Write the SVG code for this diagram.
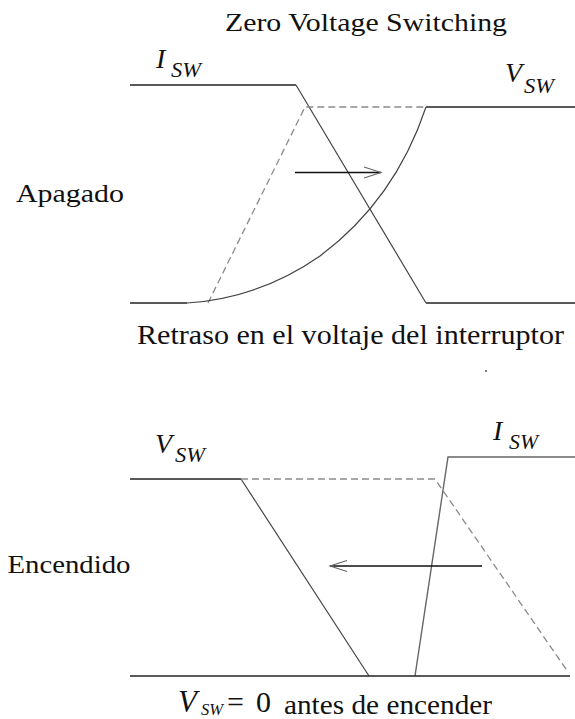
<svg xmlns="http://www.w3.org/2000/svg" width="575" height="719" viewBox="0 0 575 719">
  <defs>
    <marker id="open" markerUnits="userSpaceOnUse" markerWidth="24" markerHeight="16" viewBox="-20 -8 24 16" refX="0" refY="0" orient="auto">
      <path d="M-17,-5.5 L0,0 L-17,5.5" fill="none" stroke="#666" stroke-width="1.1"/>
    </marker>
  </defs>
  <style>
    text { fill: #111; }
    .i { font-style: italic; }
    .base { fill: none; stroke: #222; stroke-width: 1.6; }
    .slope { fill: none; stroke: #444; stroke-width: 1.2; }
    .grey { fill: none; stroke: #666; stroke-width: 1.4; }
    .dash { fill: none; stroke: #8a8a8a; stroke-width: 1.3; stroke-dasharray: 7 4; }
    .arrow { fill: none; stroke: #111; stroke-width: 1.5; marker-end: url(#open); }
  </style>
  <rect width="575" height="719" fill="#fff"/>

  <text font-family="Liberation Serif" x="225" y="31" font-size="26" textLength="282" lengthAdjust="spacingAndGlyphs">Zero Voltage Switching</text>

  <g id="apagado">
    <text font-family="Liberation Serif" x="16" y="201.5" font-size="26" textLength="108" lengthAdjust="spacingAndGlyphs">Apagado</text>
    <g id="isw-top">
      <text font-family="Liberation Serif" class="i" x="156" y="68" font-size="28">I</text>
      <text font-family="Liberation Serif" class="i" x="171" y="77" font-size="21" textLength="30" lengthAdjust="spacingAndGlyphs">SW</text>
    </g>
    <g id="vsw-top">
      <text font-family="Liberation Serif" class="i" x="505" y="82" font-size="28">V</text>
      <text font-family="Liberation Serif" class="i" x="524" y="93" font-size="21" textLength="30" lengthAdjust="spacingAndGlyphs">SW</text>
    </g>
    <path class="base" d="M130,85 H296"/>
    <path class="slope" d="M296,85 L426,303"/>
    <path class="base" d="M426,303 H575"/>
    <path class="dash" d="M208,303 L305,107 H426"/>
    <path class="base" d="M426,107 H575"/>
    <path class="base" d="M130,303 H187"/>
    <path class="slope" d="M187,303 Q260,298 320,256 Q395,200 426,107"/>
    <text font-family="Liberation Serif" x="137" y="343.5" font-size="27" textLength="427" lengthAdjust="spacingAndGlyphs">Retraso en el voltaje del interruptor</text>
    <circle cx="486" cy="371" r="1" fill="#555"/>
  </g>

  <g id="encendido">
    <text font-family="Liberation Serif" x="7.5" y="572.5" font-size="26" textLength="123" lengthAdjust="spacingAndGlyphs">Encendido</text>
    <g id="vsw-bot">
      <text font-family="Liberation Serif" class="i" x="155" y="453" font-size="28">V</text>
      <text font-family="Liberation Serif" class="i" x="175" y="462" font-size="21" textLength="30" lengthAdjust="spacingAndGlyphs">SW</text>
    </g>
    <g id="isw-bot">
      <text font-family="Liberation Serif" class="i" x="493" y="440" font-size="28">I</text>
      <text font-family="Liberation Serif" class="i" x="509" y="449" font-size="21" textLength="29" lengthAdjust="spacingAndGlyphs">SW</text>
    </g>
    <path class="base" d="M130,479 H241"/>
    <path class="slope" d="M241,479 L369,676"/>
    <path class="dash" d="M241,479 H435 L568,672"/>
    <path class="grey" d="M415,676 L448,457 H575"/>
    <path class="base" d="M130,676 H570"/>
    <g id="formula">
      <text font-family="Liberation Serif" class="i" x="178" y="712" font-size="31">V</text>
      <text font-family="Liberation Serif" class="i" x="201" y="714.5" font-size="16" textLength="22" lengthAdjust="spacingAndGlyphs">SW</text>
      <text font-family="Liberation Serif" x="227" y="712" font-size="30">=</text>
      <text font-family="Liberation Serif" x="256" y="712" font-size="30">0</text>
      <text font-family="Liberation Serif" x="284" y="713.5" font-size="28" textLength="208" lengthAdjust="spacingAndGlyphs">antes de encender</text>
    </g>
  </g>

  <g id="connectors">
    <path class="arrow" d="M295,172.5 H381"/>
    <path class="arrow" d="M482,566 H330"/>
  </g>
</svg>
